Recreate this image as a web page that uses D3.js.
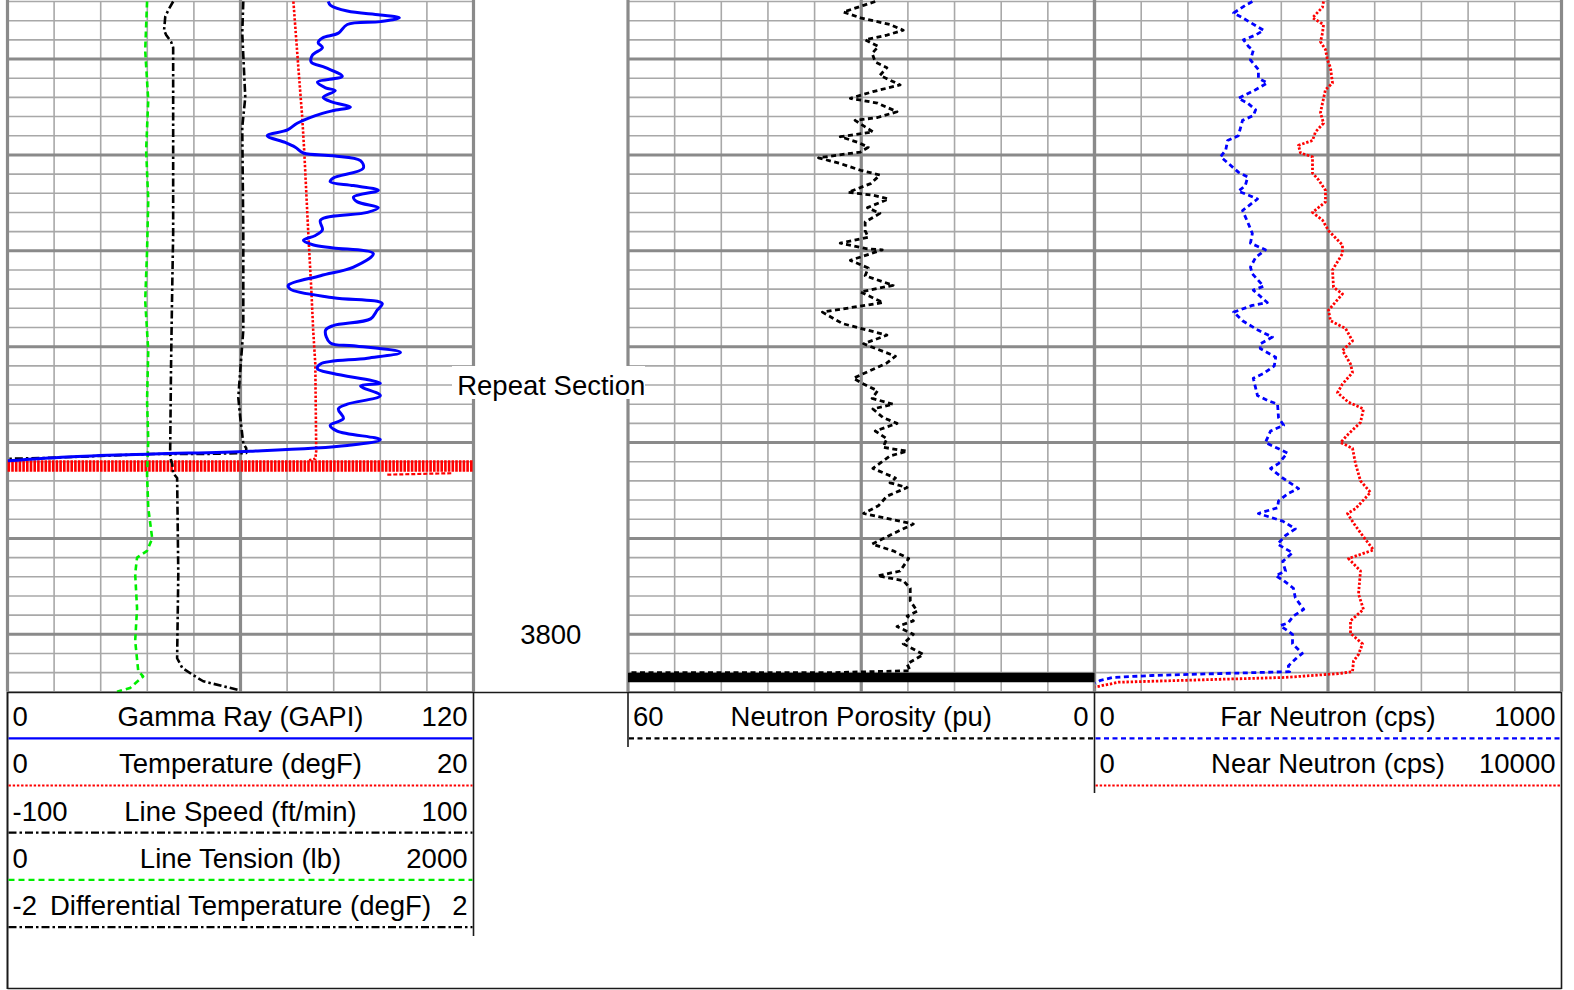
<!DOCTYPE html>
<html><head><meta charset="utf-8">
<script src="https://cdn.jsdelivr.net/npm/d3@7"></script>
<style>
html,body{margin:0;padding:0;background:#fff;}
svg{display:block;font-family:"Liberation Sans",Arial,sans-serif;}
</style></head><body>
<svg id="c" width="1574" height="990"></svg>
<script>
// ---------------- DATA ----------------
const depthDomain = [3734, 3806];
const depthLabels = [3800];
const sectionLabel = "Repeat Section";

const curveNames = ["Gamma Ray (GAPI)","Temperature (degF)","Line Speed (ft/min)","Line Tension (lb)","Differential Temperature (degF)","Neutron Porosity (pu)","Far Neutron (cps)","Near Neutron (cps)"];
const curveMin = [0, 0, -100, 0, -2, 60, 0, 0];
const curveMax = [120, 20, 100, 2000, 2, 0, 1000, 10000];
const curveMinLabel = ["0","0","-100","0","-2","60","0","0"];
const curveMaxLabel = ["120","20","100","2000","2","0","1000","10000"];

// [depth (ft), value]
const gammaRay = [[3734.0,82.6],[3734.4,83.2],[3735.0,87.5],[3735.4,96.0],[3735.7,100.9],[3736.1,96.0],[3736.4,87.5],[3737.3,85.2],[3737.8,81.1],[3738.3,80.0],[3738.8,81.1],[3739.6,78.5],[3740.3,78.2],[3740.9,81.9],[3741.8,86.2],[3742.4,79.8],[3743.0,81.9],[3743.3,84.4],[3744.0,81.3],[3744.5,83.7],[3745.0,88.3],[3745.4,83.7],[3745.9,79.3],[3746.7,74.6],[3747.4,72.1],[3748.0,66.9],[3748.7,71.5],[3749.2,74.1],[3749.8,76.2],[3750.1,83.9],[3750.6,90.9],[3751.4,91.6],[3752.4,83.9],[3752.8,83.1],[3753.2,89.1],[3753.7,95.5],[3754.4,89.1],[3754.9,90.1],[3755.5,95.5],[3756.0,92.7],[3756.8,80.6],[3757.8,81.1],[3758.4,79.3],[3758.9,76.2],[3759.4,78.8],[3759.7,83.9],[3760.3,94.2],[3761.7,89.1],[3762.6,80.6],[3763.6,72.3],[3764.0,72.8],[3764.9,83.9],[3765.5,96.5],[3766.2,95.2],[3767.1,93.5],[3767.8,83.9],[3768.3,81.9],[3769.6,83.1],[3769.9,89.1],[3770.6,101.2],[3771.2,92.7],[3771.8,80.6],[3772.3,79.8],[3772.8,83.9],[3773.8,96.0],[3774.1,90.9],[3775.1,96.0],[3776.0,87.5],[3776.5,85.2],[3777.5,86.5],[3778.2,83.1],[3778.8,84.9],[3779.7,96.0],[3780.3,87.5],[3780.9,62.5],[3781.2,37.5],[3781.5,15.3],[3781.9,0.1]];

const temperature = [[3734.0,12.27],[3740.8,12.48],[3746.1,12.65],[3749.8,12.74],[3758.2,12.91],[3764.1,13.04],[3768.3,13.12],[3771.8,13.21],[3780.9,13.25],[3781.7,13.21],[3781.9,12.87]];
const temperatureBand = [[3782.45,0],[3782.45,20]];
const temperatureTail = [[3783.35,16.3],[3783.2,19.1]];

const lineSpeed = [[3734.0,-28.9],[3734.9,-31.0],[3735.6,-32.3],[3737.0,-32.8],[3737.5,-31.9],[3738.2,-29.8],[3738.8,-28.9],[3746.1,-28.9],[3758.2,-28.9],[3763.8,-29.3],[3771.8,-29.8],[3781.2,-30.2],[3781.9,-29.8],[3782.2,-29.3],[3783.2,-28.9],[3783.7,-27.2],[3793.7,-26.7],[3802.5,-27.2],[3803.5,-25.0],[3804.2,-20.7],[3804.9,-16.0],[3805.4,-7.8],[3805.8,-0.9]];

const lineTension = [[3734.0,599],[3739.1,591],[3744.3,604],[3749.5,595],[3754.7,604],[3760.0,599],[3765.2,591],[3770.4,604],[3775.6,599],[3779.8,604],[3783.3,599],[3786.8,604],[3790.0,621],[3791.3,599],[3792.0,556],[3793.7,548],[3797.3,556],[3800.7,548],[3803.8,561],[3804.4,582],[3805.6,526],[3806.0,470]];

const diffTemp = [[3734.0,0.024],[3737.3,0.015],[3744.0,0.041],[3747.1,0.015],[3758.2,0.024],[3768.3,0.024],[3772.5,-0.002],[3775.3,-0.019],[3777.4,-0.002],[3780.1,0.024],[3780.6,0.049],[3781.1,0.049],[3781.2,-0.346],[3781.2,-0.776],[3781.4,-1.205],[3781.6,-1.635],[3781.7,-1.996]];

const neutronPorosity = [[3734.0,28.2],[3734.4,29.7],[3735.1,32.3],[3735.7,30.1],[3736.4,26.3],[3737.0,24.6],[3737.5,26.7],[3738.0,29.5],[3738.7,27.8],[3739.4,28.6],[3740.3,28.2],[3740.9,26.7],[3741.7,27.6],[3742.7,25.0],[3743.4,28.5],[3744.1,31.4],[3744.6,27.9],[3745.5,25.4],[3746.1,27.9],[3746.4,30.8],[3747.6,28.5],[3748.1,32.7],[3748.7,30.4],[3749.2,29.1],[3749.7,30.1],[3750.3,35.5],[3750.9,32.7],[3751.6,30.1],[3752.1,27.6],[3753.0,28.8],[3753.9,31.7],[3754.2,28.5],[3754.6,26.5],[3755.5,29.2],[3756.1,27.6],[3757.0,29.5],[3757.9,29.5],[3758.6,29.1],[3759.2,32.7],[3759.8,29.2],[3759.9,27.3],[3761.0,31.4],[3761.8,29.1],[3762.6,29.5],[3763.6,25.9],[3764.3,30.1],[3765.4,27.2],[3766.4,35.0],[3767.6,32.4],[3768.8,26.7],[3769.7,29.7],[3771.0,25.6],[3771.7,26.7],[3773.3,31.0],[3773.9,29.7],[3774.6,27.9],[3775.4,28.6],[3776.0,25.9],[3776.5,28.5],[3777.4,27.2],[3778.0,25.4],[3778.8,28.2],[3779.6,26.7],[3780.5,27.2],[3780.9,24.1],[3781.4,26.3],[3782.7,28.5],[3783.7,25.6],[3784.2,26.3],[3784.7,24.1],[3785.6,26.7],[3786.6,27.8],[3787.4,29.7],[3788.5,23.3],[3789.5,25.9],[3790.6,28.6],[3791.3,25.9],[3792.1,23.9],[3793.4,25.0],[3793.9,27.9],[3794.4,24.6],[3795.2,23.7],[3796.5,23.7],[3797.6,22.8],[3798.1,24.1],[3798.6,23.3],[3799.2,25.4],[3800.0,23.3],[3801.0,24.6],[3802.1,22.0],[3803.1,24.1],[3803.8,23.7],[3804.0,33.6],[3804.0,60]];
const porosityBand = [[3804.5,60],[3804.5,0]];

const farNeutron = [[3734.0,338],[3734.4,323],[3735.2,298],[3735.7,317],[3737.0,362],[3737.5,345],[3738.0,319],[3738.7,330],[3739.1,340],[3740.1,334],[3741.1,351],[3742.0,351],[3742.5,370],[3743.2,345],[3744.1,308],[3744.6,328],[3745.3,345],[3745.9,340],[3746.4,317],[3748.0,308],[3748.5,285],[3749.5,281],[3750.2,270],[3750.9,287],[3751.8,308],[3752.3,328],[3753.2,323],[3753.8,308],[3754.2,330],[3754.6,349],[3755.8,317],[3757.0,328],[3758.2,338],[3759.2,334],[3759.9,366],[3760.7,345],[3761.7,334],[3762.4,338],[3763.7,362],[3764.1,340],[3765.4,370],[3765.7,338],[3766.4,298],[3767.3,317],[3768.3,351],[3769.0,381],[3769.7,355],[3770.2,355],[3771.1,388],[3772.0,385],[3772.8,362],[3773.3,340],[3775.1,349],[3775.6,370],[3776.0,392],[3777.4,394],[3778.2,405],[3778.8,377],[3780.0,366],[3780.6,392],[3781.1,413],[3782.2,394],[3782.7,377],[3783.7,403],[3784.8,437],[3785.3,415],[3786.1,394],[3786.8,392],[3787.4,351],[3788.2,403],[3789.0,430],[3789.7,409],[3790.6,392],[3791.5,424],[3792.4,403],[3793.4,409],[3793.9,388],[3794.4,405],[3795.2,426],[3796.2,430],[3797.4,448],[3798.1,426],[3798.8,415],[3799.1,398],[3800.0,424],[3801.0,424],[3802.0,445],[3802.6,430],[3803.3,415],[3803.9,418],[3804.1,266],[3804.3,124],[3804.5,39],[3804.8,13],[3805.1,2]];

const nearNeutron = [[3734.0,4904],[3734.6,4882],[3735.7,4668],[3736.4,4904],[3737.3,4882],[3738.2,4839],[3739.0,4946],[3740.1,4989],[3740.9,5053],[3742.5,5096],[3743.2,4946],[3744.6,4882],[3745.6,4839],[3746.7,4904],[3747.6,4732],[3748.5,4668],[3749.0,4368],[3749.8,4411],[3750.2,4668],[3751.9,4668],[3752.6,4797],[3753.7,4946],[3754.9,4946],[3756.0,4668],[3756.8,4882],[3757.9,5011],[3759.4,5310],[3760.3,5310],[3762.0,5096],[3763.8,5118],[3764.5,5310],[3766.2,5011],[3767.3,5053],[3768.1,5375],[3769.4,5525],[3770.4,5310],[3771.8,5482],[3772.7,5525],[3773.9,5310],[3774.8,5203],[3775.8,5439],[3776.5,5760],[3777.9,5696],[3779.1,5439],[3780.0,5268],[3780.6,5525],[3782.2,5589],[3784.0,5696],[3785.2,5910],[3786.9,5589],[3787.4,5418],[3788.4,5546],[3789.7,5739],[3791.2,5974],[3792.1,5439],[3793.4,5696],[3795.8,5653],[3797.4,5760],[3798.6,5482],[3799.9,5482],[3801.0,5739],[3802.1,5653],[3802.8,5546],[3803.9,5525],[3804.1,5225],[3804.5,4090],[3804.8,1949],[3805.0,514],[3805.5,21]];

// ---------------- LAYOUT / STYLE ----------------
const svg = d3.select("#c");
const trackX = [[7.5,473.5],[628,1094.5],[1094.5,1561.5]];
const y = d3.scaleLinear().domain(depthDomain).range([1.5, 691.8]);
const curveTrack = [0,0,0,0,0,1,2,2];
const curveRow = [0,1,2,3,4,0,0,1];
const curveData = [gammaRay, temperature, lineSpeed, lineTension, diffTemp, neutronPorosity, farNeutron, nearNeutron];
const styles = [
  {color:"#0000ff", dash:null, w:3, smooth:true},
  {color:"#ff0000", dash:"2.4,1.8", w:2.6},
  {color:"#000000", dash:"8,3,2.5,3", w:2.6},
  {color:"#00ee00", dash:"6,4", w:2.6},
  {color:"#000000", dash:"8,3,2.5,3", w:2.6},
  {color:"#000000", dash:"5,3.5", w:2.8},
  {color:"#0000ff", dash:"5,3.5", w:2.8},
  {color:"#ff0000", dash:"2.4,1.8", w:2.8}
];
const xs = curveMin.map((m,i)=>d3.scaleLinear().domain([m, curveMax[i]]).range(trackX[curveTrack[i]]));

// ---------------- GRID ----------------
const gGrid = svg.append("g");
const depthTicks = d3.range(depthDomain[0], depthDomain[1] + 0.01, 2);
const minorC = "#a8a8a8", majorC = "#8a8a8a";
trackX.forEach((tx) => {
  const gx = d3.scaleLinear().domain([0,10]).range(tx);
  const vt = d3.range(0, 11);
  gGrid.selectAll(null).data(depthTicks.filter(d => d % 10 !== 0)).enter().append("line")
    .attr("x1", tx[0]).attr("x2", tx[1]).attr("y1", d => y(d)).attr("y2", d => y(d))
    .attr("stroke", minorC).attr("stroke-width", 1.6);
  gGrid.selectAll(null).data(vt.filter(v => v % 5 !== 0)).enter().append("line")
    .attr("x1", v => gx(v)).attr("x2", v => gx(v)).attr("y1", y(depthDomain[0])).attr("y2", y(depthDomain[1]))
    .attr("stroke", minorC).attr("stroke-width", 1.6);
  gGrid.selectAll(null).data(depthTicks.filter(d => d % 10 === 0)).enter().append("line")
    .attr("x1", tx[0]).attr("x2", tx[1]).attr("y1", d => y(d)).attr("y2", d => y(d))
    .attr("stroke", majorC).attr("stroke-width", 3);
  gGrid.selectAll(null).data(vt.filter(v => v % 5 === 0)).enter().append("line")
    .attr("x1", v => gx(v)).attr("x2", v => gx(v)).attr("y1", 0).attr("y2", y(depthDomain[1]))
    .attr("stroke", majorC).attr("stroke-width", 3.2);
});

// ---------------- CURVES ----------------
const gCurves = svg.append("g");
function drawCurve(data, i, extra) {
  const st = styles[i];
  const line = d3.line().x(d => xs[i](d[1])).y(d => y(d[0]));
  if (st.smooth && !extra) line.curve(d3.curveCatmullRom.alpha(0.5));
  const p = gCurves.append("path").datum(data).attr("d", line)
    .attr("fill", "none").attr("stroke", st.color)
    .attr("stroke-width", (extra && extra.w) || st.w)
    .attr("stroke-linejoin", "round");
  const dash = extra && extra.dash !== undefined ? extra.dash : st.dash;
  if (dash) p.attr("stroke-dasharray", dash);
}
drawCurve(temperatureBand, 1, {w: 11.5, dash: "2.6,1.1"});
drawCurve(porosityBand, 5, {w: 9.5, dash: null});
drawCurve(temperatureTail, 1, {w: 2.2, dash: "4,2"});
[3, 2, 4, 1, 0, 5, 6, 7].forEach(i => drawCurve(curveData[i], i));

// ---------------- DEPTH COLUMN ----------------
const depthCx = (trackX[0][1] + trackX[1][0]) / 2;
svg.selectAll(null).data(depthLabels).enter().append("text")
  .attr("x", depthCx).attr("y", d => y(d) + 10)
  .attr("text-anchor", "middle").attr("font-size", 27.5).attr("fill", "#000")
  .text(d => d);
svg.append("rect").attr("x", 452).attr("y", 366).attr("width", 193).attr("height", 33).attr("fill", "#fff");
svg.append("text").attr("x", depthCx + 0.5).attr("y", 394.5)
  .attr("text-anchor", "middle").attr("font-size", 27.5).attr("fill", "#000").text(sectionLabel);

// ---------------- LEGEND (HEADER BELOW) ----------------
const gLeg = svg.append("g");
const frame = "#1a1a1a";
gLeg.append("line").attr("x1", trackX[0][0]).attr("x2", trackX[2][1]).attr("y1", 692.5).attr("y2", 692.5).attr("stroke", frame).attr("stroke-width", 1.6);
gLeg.append("line").attr("x1", trackX[0][0]).attr("x2", trackX[0][0]).attr("y1", 692).attr("y2", 989).attr("stroke", frame).attr("stroke-width", 2);
gLeg.append("line").attr("x1", trackX[0][0]).attr("x2", trackX[2][1]).attr("y1", 988.5).attr("y2", 988.5).attr("stroke", frame).attr("stroke-width", 1.6);
gLeg.append("line").attr("x1", trackX[2][1]).attr("x2", trackX[2][1]).attr("y1", 692).attr("y2", 989).attr("stroke", frame).attr("stroke-width", 1.6);
gLeg.append("line").attr("x1", trackX[0][1]).attr("x2", trackX[0][1]).attr("y1", 692).attr("y2", 936).attr("stroke", frame).attr("stroke-width", 1.6);
gLeg.append("line").attr("x1", trackX[1][0]).attr("x2", trackX[1][0]).attr("y1", 692).attr("y2", 747).attr("stroke", frame).attr("stroke-width", 1.6);
gLeg.append("line").attr("x1", trackX[2][0]).attr("x2", trackX[2][0]).attr("y1", 692).attr("y2", 793).attr("stroke", frame).attr("stroke-width", 1.6);

curveNames.forEach((name, i) => {
  const tx = trackX[curveTrack[i]], r = curveRow[i];
  const base = 726 + r * 47.3;
  const ly = 738.3 + r * 47.2;
  const g = gLeg.append("g").attr("font-size", 27.5).attr("fill", "#000");
  g.append("text").attr("x", tx[0] + 5).attr("y", base).text(curveMinLabel[i]);
  g.append("text").attr("x", tx[1] - 6).attr("y", base).attr("text-anchor", "end").text(curveMaxLabel[i]);
  g.append("text").attr("x", (tx[0] + tx[1]) / 2).attr("y", base).attr("text-anchor", "middle").text(name);
  const st = styles[i];
  const l = g.append("line").attr("x1", tx[0] + 1).attr("x2", tx[1] - 1).attr("y1", ly).attr("y2", ly)
    .attr("stroke", st.color).attr("stroke-width", 2.2);
  if (st.dash) l.attr("stroke-dasharray", st.dash);
});
</script>
</body></html>
